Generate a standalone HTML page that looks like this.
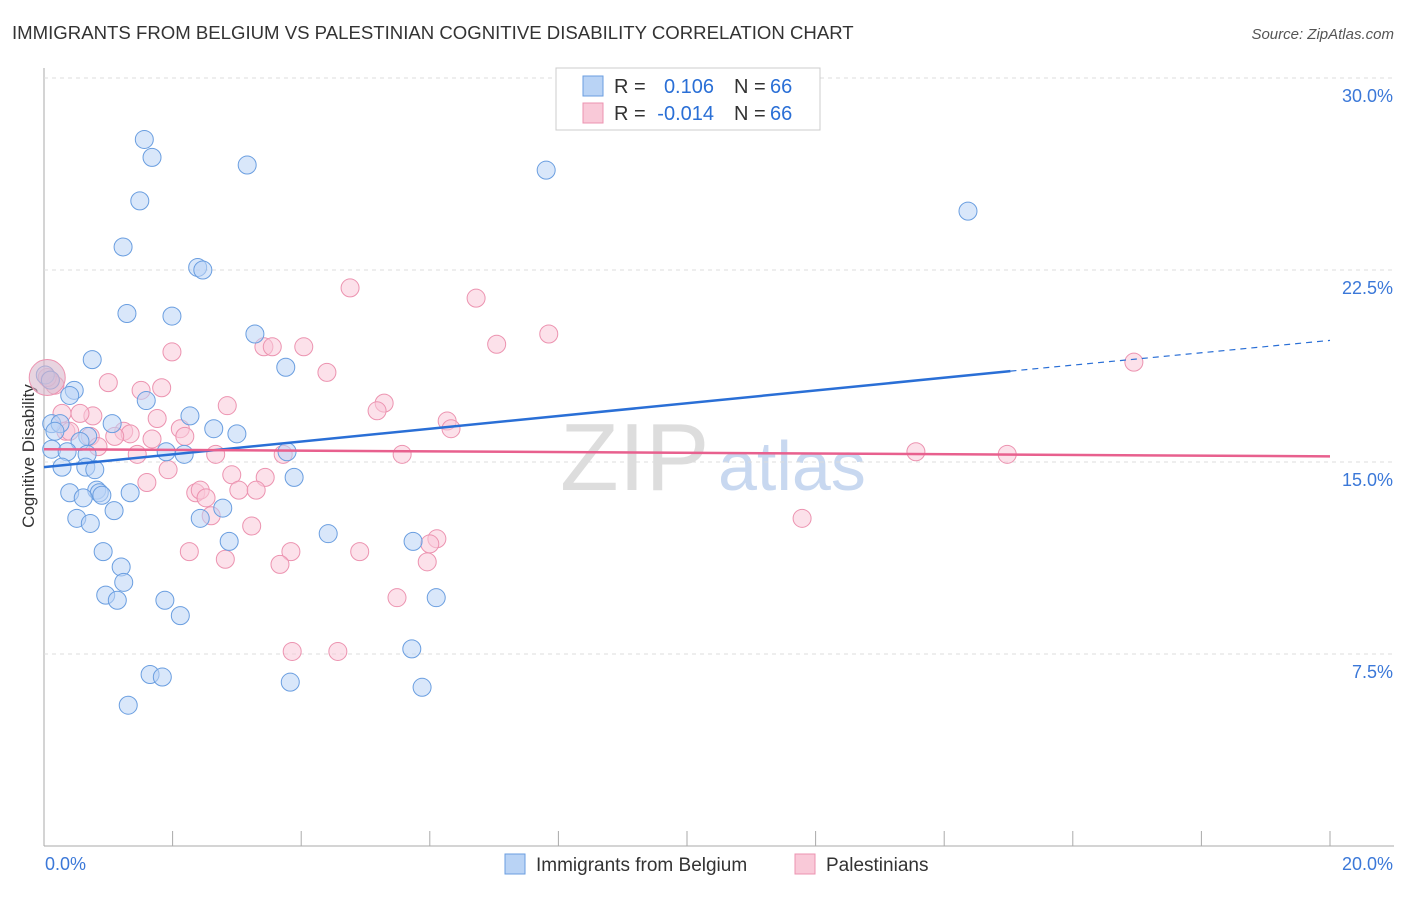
<!DOCTYPE html>
<html><head><meta charset="utf-8"><style>
body{margin:0;background:#fff;font-family:"Liberation Sans",sans-serif;}
svg text{font-family:"Liberation Sans",sans-serif;}
</style></head><body>
<svg id="c" width="1406" height="892" xmlns="http://www.w3.org/2000/svg">
<text x="12" y="39" font-size="18.6" fill="#333">IMMIGRANTS FROM BELGIUM VS PALESTINIAN COGNITIVE DISABILITY CORRELATION CHART</text>
<text x="1394" y="39" font-size="15" fill="#555" text-anchor="end" font-style="italic">Source: ZipAtlas.com</text>
<text x="34" y="456" font-size="17" fill="#333" text-anchor="middle" transform="rotate(-90 34 456)">Cognitive Disability</text>
<text x="560" y="490" font-size="96" fill="#ddd" font-family="Liberation Serif">ZIP</text>
<text x="718" y="490" font-size="70" fill="#c8d8f0">atlas</text>
<g id="grid"></g><g id="pts"></g><g id="lines"></g>
<g>
<rect x="556" y="68" width="264" height="62" fill="#fff" stroke="#ccc"/>
<rect x="583" y="76" width="20" height="20" fill="#b9d3f5" stroke="#6a9ee0"/>
<rect x="583" y="103" width="20" height="20" fill="#f9c9d8" stroke="#ec93b0"/>
<g font-size="20" fill="#333">
<text x="614" y="93">R =</text><text x="714" y="93" text-anchor="end" fill="#2a6fd6">0.106</text><text x="734" y="93">N =</text><text x="770" y="93" fill="#2a6fd6">66</text>
<text x="614" y="120">R =</text><text x="714" y="120" text-anchor="end" fill="#2a6fd6">-0.014</text><text x="734" y="120">N =</text><text x="770" y="120" fill="#2a6fd6">66</text>
</g>
</g>
<g>
<rect x="505" y="854" width="20" height="20" fill="#b9d3f5" stroke="#6a9ee0"/>
<text x="536" y="871" font-size="19" fill="#333">Immigrants from Belgium</text>
<rect x="795" y="854" width="20" height="20" fill="#f9c9d8" stroke="#ec93b0"/>
<text x="826" y="871" font-size="19" fill="#333">Palestinians</text>
</g>
</svg>
<script>
const yTicks=[7.5,15,22.5,30];
const yTickLabels=["7.5%","15.0%","22.5%","30.0%"];
const xTickLabels=["0.0%","20.0%"];
const belgiumX=[1.56,1.68,3.16,7.81,14.37,1.49,1.23,2.39,2.47,1.29,1.99,3.28,0.75,3.76,0.47,0.40,1.59,2.27,1.06,0.12,0.25,0.17,2.64,3.00,0.68,0.56,0.12,0.36,1.90,2.18,3.78,0.67,0.65,0.28,0.79,3.89,0.82,0.86,0.40,1.34,0.90,0.61,2.78,1.09,2.43,0.51,0.72,4.42,2.88,5.74,0.92,1.20,1.24,0.96,1.14,1.88,6.10,2.12,5.72,1.65,1.84,3.83,5.88,1.31,0.02,0.10];
const belgiumY=[27.6,26.9,26.6,26.4,24.8,25.2,23.4,22.6,22.5,20.8,20.7,20.0,19.0,18.7,17.8,17.6,17.4,16.8,16.5,16.5,16.5,16.2,16.3,16.1,16.0,15.8,15.5,15.4,15.4,15.3,15.4,15.3,14.8,14.8,14.7,14.4,13.9,13.8,13.8,13.8,13.7,13.6,13.2,13.1,12.8,12.8,12.6,12.2,11.9,11.9,11.5,10.9,10.3,9.8,9.6,9.6,9.7,9.0,7.7,6.7,6.6,6.4,6.2,5.5,18.4,18.2];
const palX=[4.76,6.72,7.85,7.04,16.95,1.99,3.42,3.55,4.04,4.40,1.00,1.51,1.83,0.09,0.17,2.85,5.29,5.18,0.28,0.76,0.56,1.76,6.27,6.33,2.12,0.34,0.40,1.24,1.34,1.10,0.72,2.19,1.68,0.84,1.45,2.67,3.72,5.57,13.56,14.98,1.93,2.92,3.44,1.60,2.36,2.43,2.52,3.03,3.30,2.60,3.23,11.79,2.26,2.82,3.84,4.91,6.11,6.00,3.67,5.96,5.49,3.86,4.57,0.05];
const palY=[21.8,21.4,20.0,19.6,18.9,19.3,19.5,19.5,19.5,18.5,18.1,17.8,17.9,18.2,18.0,17.2,17.3,17.0,16.9,16.8,16.9,16.7,16.6,16.3,16.3,16.2,16.2,16.2,16.1,16.0,16.0,16.0,15.9,15.6,15.3,15.3,15.3,15.3,15.4,15.3,14.7,14.5,14.4,14.2,13.8,13.9,13.6,13.9,13.9,12.9,12.5,12.8,11.5,11.2,11.5,11.5,12.0,11.8,11.0,11.1,9.7,7.6,7.6,18.3];
const NS="http://www.w3.org/2000/svg";
const X=v=>44+v/20*1286, Y=v=>846-v*25.6;
function mk(t,a,p){const e=document.createElementNS(NS,t);for(const k in a)e.setAttribute(k,a[k]);p.appendChild(e);return e;}
const svg=document.getElementById('c'),grid=document.getElementById('grid'),pts=document.getElementById('pts'),lines=document.getElementById('lines');
mk('line',{x1:44,y1:68,x2:44,y2:846,stroke:'#aaa'},grid);
mk('line',{x1:44,y1:846,x2:1394,y2:846,stroke:'#aaa'},grid);
for(let i=1;i<=10;i++){const l=mk('line',{x1:44+i*128.6,y1:831,x2:44+i*128.6,y2:846,stroke:'#aaa'},grid);

}
yTicks.forEach((v,i)=>{const l=mk('line',{x1:44,y1:Y(v),x2:1394,y2:Y(v),stroke:'#ddd','stroke-dasharray':'4,4'},grid);


const t=mk('text',{x:1393,y:Y(v)+24,'font-size':18,fill:'#3b78d8','text-anchor':'end'},grid);t.textContent=yTickLabels[i];

});
[[0,'start',45],[20,'end',1393]].forEach((d,i)=>{const t=mk('text',{x:d[2],y:870,'font-size':18,fill:'#3b78d8','text-anchor':d[1]},grid);t.textContent=xTickLabels[i];

});
function series(xs,ys,fill,stroke,name){xs.forEach((x,i)=>{const c=mk('circle',{cx:X(x),cy:Y(ys[i]),r:9,fill:fill,'fill-opacity':0.55,stroke:stroke,'stroke-width':1},pts);

});}
series(palX,palY,'#f9c9d8','#ec93b0','palestinians-point');
series(belgiumX,belgiumY,'#b9d3f5','#6a9ee0','belgium-point');
const big=mk('circle',{cx:X(0.05),cy:Y(18.3),r:18,fill:'#d8b8cc','fill-opacity':0.6,stroke:'#ec93b0'},pts);


const b1=mk('line',{x1:X(0),y1:Y(14.8),x2:X(15.03),y2:Y(18.55),stroke:'#2a6fd6','stroke-width':2.5},lines);


const b2=mk('line',{x1:X(15.03),y1:Y(18.55),x2:X(20),y2:Y(19.75),stroke:'#2a6fd6','stroke-width':1.2,'stroke-dasharray':'6,5'},lines);


const p1=mk('line',{x1:X(0),y1:Y(15.5),x2:X(20),y2:Y(15.22),stroke:'#e8608e','stroke-width':2.5},lines);


</script>
</body></html>
